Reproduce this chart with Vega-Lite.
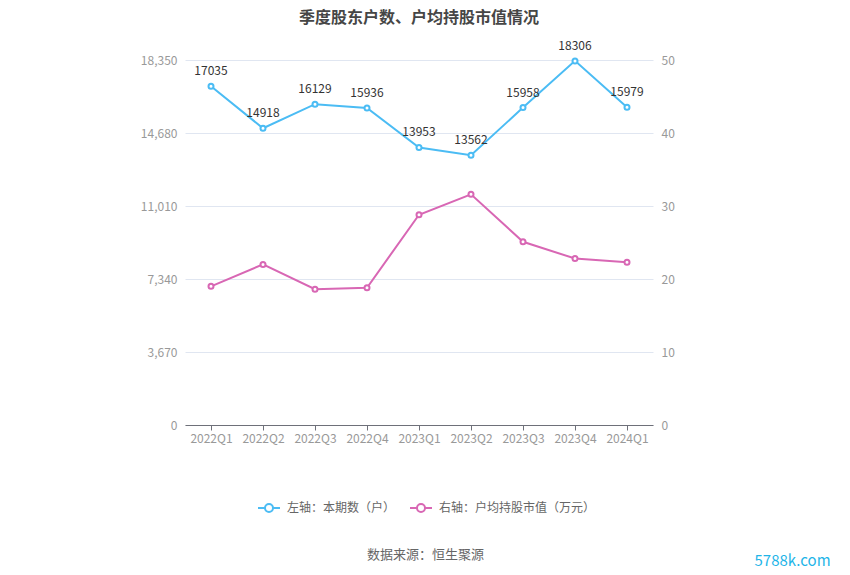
{
  "$schema": "https://vega.github.io/schema/vega-lite/v6.json",
  "width": 468,
  "height": 365,
  "autosize": {"type": "none"},
  "padding": {"left": 185, "top": 60, "right": 197, "bottom": 150},
  "background": "white",
  "config": {
    "view": {"stroke": null},
    "font": "Noto Sans CJK SC"
  },
  "title": {
    "text": "季度股东户数、户均持股市值情况",
    "fontSize": 16,
    "fontWeight": "bold",
    "color": "#464646",
    "anchor": "middle",
    "frame": "group",
    "offset": 14
  },
  "data": {
    "values": [
      {"quarter": "2022Q1", "holders": 17035, "value": 19.0},
      {"quarter": "2022Q2", "holders": 14918, "value": 22.0},
      {"quarter": "2022Q3", "holders": 16129, "value": 18.6},
      {"quarter": "2022Q4", "holders": 15936, "value": 18.8},
      {"quarter": "2023Q1", "holders": 13953, "value": 28.8},
      {"quarter": "2023Q2", "holders": 13562, "value": 31.6},
      {"quarter": "2023Q3", "holders": 15958, "value": 25.1},
      {"quarter": "2023Q4", "holders": 18306, "value": 22.8},
      {"quarter": "2024Q1", "holders": 15979, "value": 22.3}
    ]
  },
  "encoding": {
    "x": {
      "field": "quarter",
      "type": "ordinal",
      "sort": null,
      "scale": {"padding": 0.5},
      "axis": {
        "title": "数据来源：恒生聚源",
        "titleColor": "#666666",
        "titleFontSize": 13,
        "titleFontWeight": "normal",
        "titleX": 240,
        "titleY": 129,
        "titleBaseline": "middle",
        "titleAlign": "center",
        "labelAngle": 0,
        "labelColor": "#999999",
        "labelFontSize": 12,
        "labelPadding": 3,
        "domainColor": "#6e7079",
        "tickColor": "#6e7079",
        "tickSize": 5,
        "grid": false
      }
    }
  },
  "layer": [
    {
      "encoding": {
        "y": {
          "field": "holders",
          "type": "quantitative",
          "scale": {"domain": [0, 18350], "nice": false},
          "axis": {
            "title": null,
            "orient": "left",
            "values": [0, 3670, 7340, 11010, 14680, 18350],
            "format": ",.0f",
            "labelColor": "#999999",
            "labelFontSize": 12,
            "labelPadding": 8,
            "ticks": false,
            "domain": false,
            "grid": true,
            "gridColor": "#e0e6f1"
          }
        },
        "color": {
          "datum": "左轴：本期数（户）",
          "type": "nominal",
          "scale": {
            "domain": ["左轴：本期数（户）", "右轴：户均持股市值（万元）"],
            "range": ["#4bbcf4", "#d867b4"]
          },
          "legend": {
            "title": null,
            "orient": "none",
            "direction": "horizontal",
            "legendX": 73,
            "legendY": 437,
            "labelColor": "#666666",
            "labelFontSize": 12,
            "columnPadding": 10,
            "symbolType": "M-1.1,0L-0.4,0M0.4,0L1.1,0M-0.4,0A0.4,0.4,0,1,1,0.4,0A0.4,0.4,0,1,1,-0.4,0",
            "symbolSize": 400,
            "symbolStrokeWidth": 2,
            "labelOffset": 7,
            "encode": {
              "symbols": {
                "update": {
                  "shape": {"value": "M-1.1,0L-0.4,0M0.4,0L1.1,0M-0.4,0A0.4,0.4,0,1,1,0.4,0A0.4,0.4,0,1,1,-0.4,0"},
                  "size": {"value": 400},
                  "fill": {"value": "white"},
                  "fillOpacity": {"value": 1},
                  "opacity": {"value": 1},
                  "stroke": {"scale": "color", "field": "value"},
                  "strokeWidth": {"value": 2}
                }
              }
            }
          }
        }
      },
      "layer": [
        {"mark": {"type": "line", "strokeWidth": 2}},
        {"mark": {"type": "point", "filled": false, "fill": "white", "fillOpacity": 1, "size": 25, "strokeWidth": 2, "opacity": 1}},
        {
          "mark": {"type": "text", "baseline": "bottom", "dy": -8, "fontSize": 12, "color": "#333333"},
          "encoding": {
            "text": {"field": "holders", "type": "quantitative", "format": "d"},
            "color": {"value": "#333333"}
          }
        }
      ]
    },
    {
      "encoding": {
        "y": {
          "field": "value",
          "type": "quantitative",
          "scale": {"domain": [0, 50], "nice": false},
          "axis": {
            "title": "5788k.com",
            "titleAngle": 0,
            "titleColor": "#1fb5e8",
            "titleFontSize": 15,
            "titleFontWeight": "normal",
            "titleX": 139,
            "titleY": 500,
            "titleAlign": "center",
            "titleBaseline": "middle",
            "orient": "right",
            "values": [0, 10, 20, 30, 40, 50],
            "labelColor": "#999999",
            "labelFontSize": 12,
            "labelPadding": 8,
            "ticks": false,
            "domain": false,
            "grid": false
          }
        },
        "color": {"datum": "右轴：户均持股市值（万元）", "type": "nominal"}
      },
      "layer": [
        {"mark": {"type": "line", "strokeWidth": 2}},
        {"mark": {"type": "point", "filled": false, "fill": "white", "fillOpacity": 1, "size": 25, "strokeWidth": 2, "opacity": 1}}
      ]
    }
  ],
  "resolve": {"scale": {"y": "independent"}, "axis": {"y": "independent"}}
}
